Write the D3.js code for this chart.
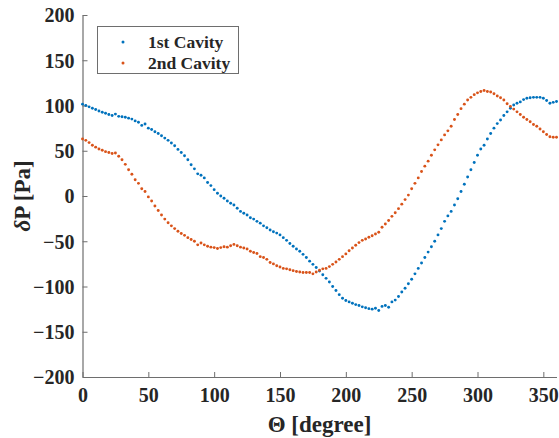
<!DOCTYPE html>
<html>
<head>
<meta charset="utf-8">
<script src="https://cdn.jsdelivr.net/npm/d3@7"></script>
<style>
  html, body { margin: 0; padding: 0; background: #fff; }
  svg { display: block; }
  text { font-family: "Liberation Serif", "Times New Roman", serif; font-weight: bold; fill: #262626; }
</style>
</head>
<body>
<svg id="chart" width="559" height="438"></svg>
<script>
// Sampling angle grid, degrees
const theta = d3.range(0, 360.01, 2.5);

// Pressure fluctuation, Pa
const cavity1 = [
  101.5, 100, 98.5, 97, 95.5, 94, 92.5, 91.5, 90, 89, 90.5, 88, 87.5, 87, 86, 85, 83, 81.5, 78, 79.5,
  75, 73.5, 71, 69, 66.5, 64, 61.5, 58.5, 55.5, 51.5, 48, 44.5, 40, 34.5, 30, 24.5, 23, 20, 15, 11.5,
  7, 3, 0, -2.5, -5.5, -8, -10, -13.5, -17, -19, -21, -24, -25.5, -28, -30, -33, -35, -37.5, -39.5, -41,
  -43, -46, -49, -52.5, -55.5, -58.5, -61, -64.5, -68, -72, -75.5, -79, -83, -87, -91, -95, -100, -104.5, -109, -113,
  -115.5, -117, -118.5, -120, -121, -122.5, -123.5, -124.5, -125, -124, -126.5, -122, -121, -123, -117, -115, -111, -106, -102, -97,
  -92, -86, -80, -74, -68, -62, -56, -50, -43, -36, -28, -22, -17, -10, -3, 5, 13, 21, 29, 37,
  45, 52, 56, 63, 69, 75, 80, 84, 89, 93, 97, 100.5, 102.5, 104, 106.5, 108, 108.5, 109, 109, 109,
  108, 105.5, 102.5, 103.5, 104.5
];
const cavity2 = [
  63, 61.5, 59, 56, 54, 52, 50.5, 49, 48, 47, 47.5, 44, 40, 35, 29, 24, 18, 14, 8, 5,
  -1, -5.5, -11, -16, -21, -25.5, -29.5, -33, -36, -39, -41.5, -43.5, -46, -48, -50, -54, -52, -54, -55.5, -56.5,
  -57, -58, -57, -56, -56.5, -55, -53.5, -55, -56.5, -57.5, -58.5, -61, -62.5, -63.5, -67, -68, -70, -73.5, -75, -77,
  -78.5, -80, -80.5, -81.5, -82.5, -83.5, -84, -84.5, -84.5, -84.5, -86, -84, -82, -80.5, -80, -78, -75.5, -73, -70, -67,
  -64, -60.5, -57.5, -54.5, -51.5, -49, -47.5, -45.5, -44, -42, -40, -34.5, -31, -27, -22.5, -18.5, -14, -9, -4, 1,
  8, 14, 20, 27, 33, 38.5, 45, 51, 56.5, 62, 67.5, 72, 77, 84.5, 90, 96.5, 101.5, 106, 109, 112,
  114, 115.5, 116.5, 115.5, 115, 113, 110.5, 108.5, 106, 102, 99, 96, 93, 90, 87, 84.5, 82, 79, 77, 74,
  71, 68, 65.5, 65, 65
];

const seriesNames = ["1st Cavity", "2nd Cavity"];
const seriesColors = ["#0072BD", "#D95319"];
const xTicks = [0, 50, 100, 150, 200, 250, 300, 350];
const yTicks = [-200, -150, -100, -50, 0, 50, 100, 150, 200];

const svg = d3.select("#chart");
const x = d3.scaleLinear().domain([0, 360]).range([82.5, 556.5]);
const y = d3.scaleLinear().domain([-200, 200]).range([377, 15]);
const axisColor = "#6e6e6e";

// Axes with inward ticks
const gx = svg.append("g").attr("transform", `translate(0,${y(-200)})`)
  .call(d3.axisBottom(x).tickValues(xTicks).tickSizeInner(-5).tickSizeOuter(0).tickPadding(11));
const gy = svg.append("g").attr("transform", `translate(${x(0)},0)`)
  .call(d3.axisLeft(y).tickValues(yTicks).tickSizeInner(-5).tickSizeOuter(0).tickPadding(8));
[gx, gy].forEach(g => {
  g.select(".domain").attr("stroke", axisColor).attr("stroke-width", 1.2);
  g.selectAll(".tick line").attr("stroke", axisColor).attr("stroke-width", 1);
  g.selectAll(".tick text").attr("font-family", "Liberation Serif").attr("font-weight", "bold")
    .attr("font-size", 20).attr("fill", "#262626");
});
gy.selectAll(".tick text").attr("dy", "0.34em");

// Axis titles
svg.append("text")
  .attr("x", x(180)).attr("y", 432)
  .attr("text-anchor", "middle").attr("font-size", 23)
  .text("Θ [degree]");
const yl = svg.append("text")
  .attr("transform", `translate(30,${y(0)}) rotate(-90)`)
  .attr("text-anchor", "middle").attr("font-size", 23);
yl.append("tspan").attr("font-style", "italic").text("δ");
yl.append("tspan").text("P [Pa]");

// Scatter series
const seriesData = [cavity1, cavity2];
seriesData.forEach((vals, i) => {
  svg.append("g").selectAll("circle")
    .data(vals.map((v, j) => ({ t: theta[j], v })))
    .join("circle")
    .attr("cx", d => x(d.t))
    .attr("cy", d => y(d.v))
    .attr("r", 1.45)
    .attr("fill", seriesColors[i]);
});

// Legend
const lg = svg.append("g");
lg.append("rect").attr("x", 97.5).attr("y", 26.5).attr("width", 141).attr("height", 47)
  .attr("fill", "#fff").attr("stroke", axisColor).attr("stroke-width", 1);
seriesNames.forEach((name, i) => {
  const cy = 42 + i * 21;
  lg.append("circle").attr("cx", 123).attr("cy", cy).attr("r", 1.5).attr("fill", seriesColors[i]);
  lg.append("text").attr("x", 148).attr("y", cy).attr("dy", "0.35em")
    .attr("font-size", 17.5).text(name);
});
</script>
</body>
</html>
